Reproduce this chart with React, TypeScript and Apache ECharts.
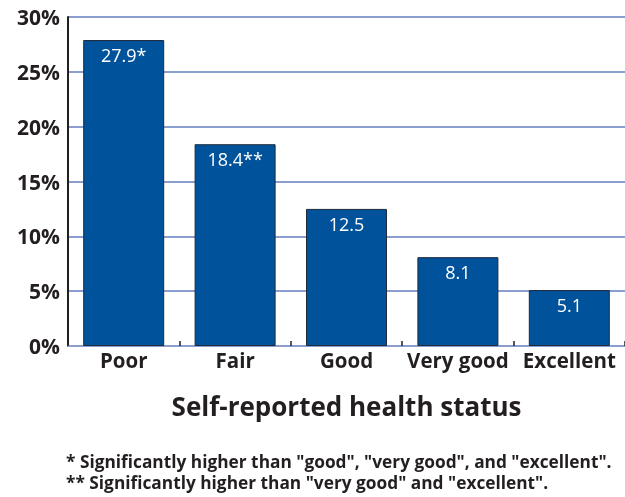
import React, { useEffect, useRef } from "react";
import * as echarts from "echarts";

const categories = ["Poor", "Fair", "Good", "Very good", "Excellent"];
const values = [27.9, 18.4, 12.5, 8.1, 5.1];
const markers = ["*", "**", "", "", ""];
const yTicks = [0, 5, 10, 15, 20, 25, 30];
const xTitle = "Self-reported health status";
const footnotes = [
  '* Significantly higher than "good", "very good", and "excellent".',
  '** Significantly higher than "very good" and "excellent".',
];

const FONT = "'Open Sans', Lato, sans-serif";

export default function App() {
  const ref = useRef<HTMLDivElement>(null);
  useEffect(() => {
    if (!ref.current) return;
    const chart = echarts.init(ref.current, null, { renderer: "svg" });
    chart.setOption({
      animation: false,
      grid: { left: 68, top: 17, width: 560, height: 329 },
      xAxis: {
        type: "category",
        data: categories,
        axisLine: { show: true, lineStyle: { color: "#8b9ed0", width: 2 } },
        axisTick: {
          show: true,
          inside: true,
          length: 5,
          lineStyle: { color: "#231f20", width: 1.5 },
        },
        axisLabel: {
          interval: 0,
          color: "#231f20",
          fontSize: 20.5,
          fontWeight: "bold",
          fontFamily: FONT,
          margin: 3,
        },
        name: xTitle,
        nameLocation: "middle",
        nameGap: 47,
        nameTextStyle: {
          color: "#231f20",
          fontSize: 26,
          fontWeight: "bold",
          fontFamily: FONT,
          padding: [0, 0, 0, 0],
        },
      },
      yAxis: {
        type: "value",
        min: yTicks[0],
        max: yTicks[yTicks.length - 1],
        interval: 5,
        axisLine: { show: true, lineStyle: { color: "#231f20", width: 2 } },
        axisTick: { show: false },
        splitLine: { show: true, lineStyle: { color: "#8b9ed0", width: 2 } },
        axisLabel: {
          color: "#231f20",
          fontSize: 21,
          fontWeight: "bold",
          fontFamily: FONT,
          margin: 8,
          formatter: (v: number) => v + "%",
        },
      },
      series: [
        {
          type: "bar",
          data: values,
          barWidth: 81,
          itemStyle: { color: "#00529b", borderColor: "#1f2a3a", borderWidth: 1 },
          label: {
            show: true,
            position: "insideTop",
            distance: 6,
            color: "#ffffff",
            fontSize: 18,
            fontFamily: FONT,
            formatter: (p: any) => values[p.dataIndex] + markers[p.dataIndex],
          },
        },
      ],
      graphic: footnotes.map((t, i) => ({
        type: "text",
        left: 66,
        top: 453 + i * 21,
        style: {
          text: t,
          fill: "#231f20",
          fontSize: 17.3,
          fontWeight: "bold",
          fontFamily: FONT,
        },
      })),
    });
    return () => chart.dispose();
  }, []);
  return (
    <div
      ref={ref}
      style={{ position: "fixed", left: 0, top: 0, width: 625, height: 497 }}
    />
  );
}
